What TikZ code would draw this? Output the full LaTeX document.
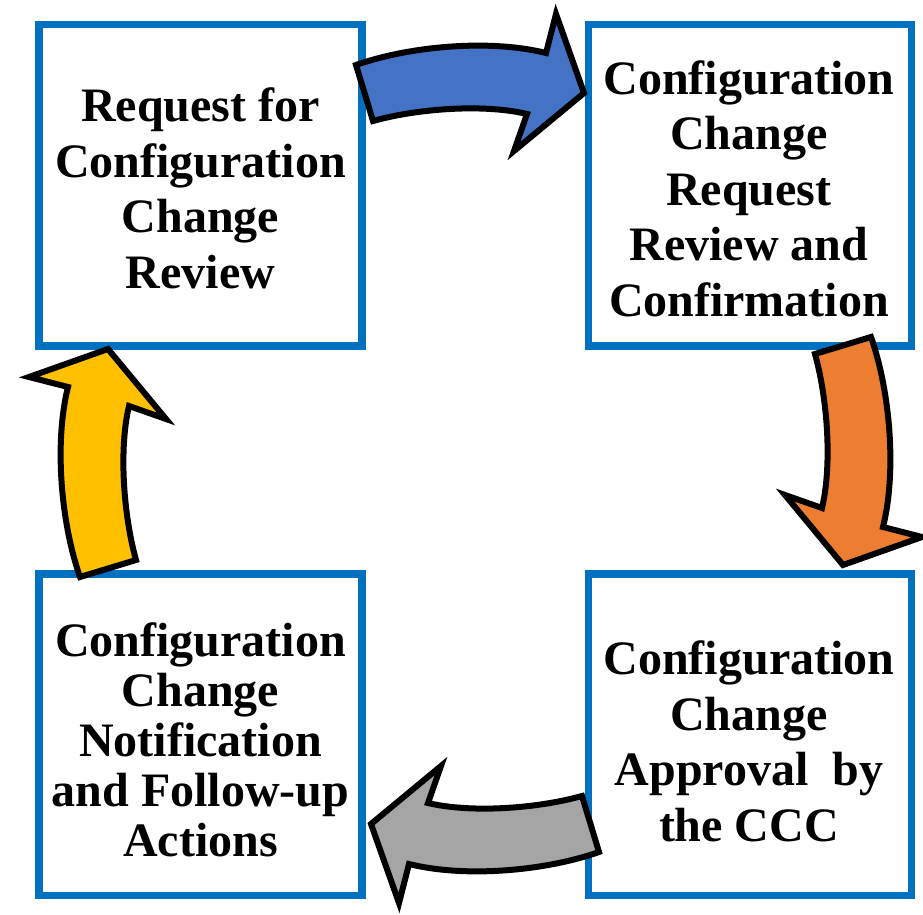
\documentclass[tikz,border=0pt]{standalone}
\usepackage{fontspec}
\setmainfont{Liberation Serif}
\definecolor{boxblue}{HTML}{0070C0}
\definecolor{ablue}{HTML}{4472C4}
\definecolor{aorange}{HTML}{ED7D31}
\definecolor{agray}{HTML}{A5A5A5}
\definecolor{ayellow}{HTML}{FFC000}
\begin{document}
\begin{tikzpicture}[x=0.5pt,y=-0.5pt,
  box/.style={draw=boxblue, line width=3.75pt, fill=white, inner sep=0pt,
              minimum width=161.5pt, minimum height=160.75pt},
  lbl/.style={font=\bfseries\fontsize{24}{27.75}\selectfont, align=center, text=black, inner sep=0pt},
  arr/.style={draw=black, line width=3pt, line join=miter},
  bentarrow/.pic={\path[pic actions] (356,65) .. controls (410,46) and (490,39) .. (546,53)
      -- (556,14) -- (584,93) -- (514,151) -- (527,114)
      .. controls (485,104) and (420,108) .. (373,121) -- cycle;}]
\useasboundingbox (0,0) rectangle (923,915);
% boxes
\node[box] (tl) at (200.5,185.25) {};
\node[box] (tr) at (750,185.25) {};
\node[box] (bl) at (200.5,734.5) {};
\node[box] (br) at (750,734.5) {};
% labels
\node[lbl] (tlt) at (200.5,188.5) {Request for\\Configuration\\Change\\Review};
\node[lbl] (trt) at (749,188.5) {Configuration\\Change\\Request\\Review and\\Confirmation};
\node[lbl, font=\bfseries\fontsize{24}{25}\selectfont] (blt) at (200.5,739.5) {Configuration\\Change\\Notification\\and Follow-up\\Actions};
\node[lbl] (brt) at (749,741.5) {Configuration\\Change\\Approval\ \ by\\the CCC};
% arrows
\pic[arr, fill=ablue] (a1) {bentarrow};
\pic[arr, fill=aorange, rotate around={-90:(477.5,458.5)}] (a2) {bentarrow};
\pic[arr, fill=agray, rotate around={180:(477.5,458.5)}] (a3) {bentarrow};
\pic[arr, fill=ayellow, rotate around={90:(474,459)}] (a4) {bentarrow};
\end{tikzpicture}
\end{document}
